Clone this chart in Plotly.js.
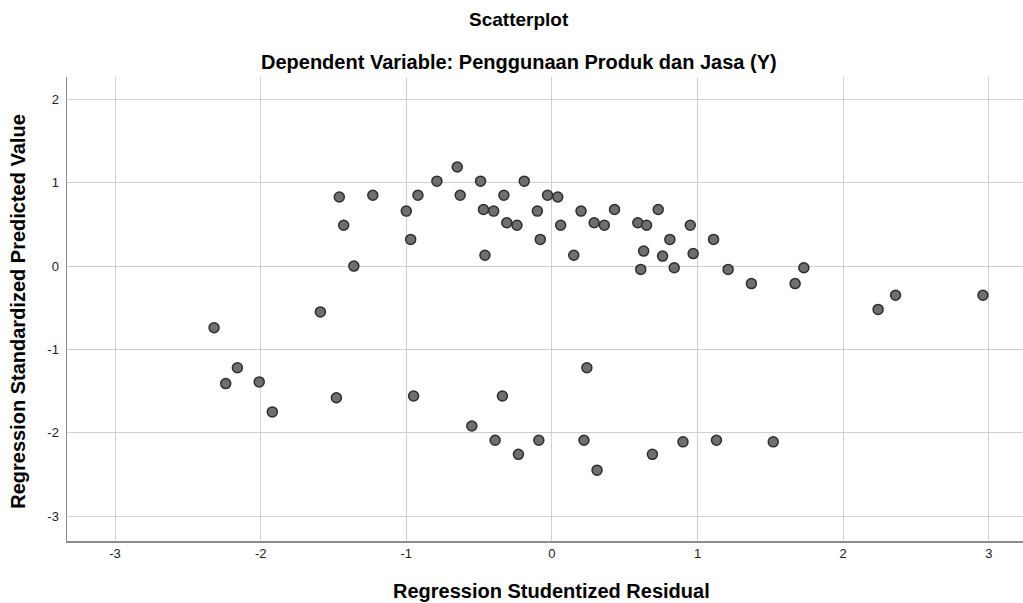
<!DOCTYPE html>
<html>
<head>
<meta charset="utf-8">
<script src="https://cdn.plot.ly/plotly-3.0.1.min.js"></script>
<style>html,body{margin:0;padding:0;background:#fff;}#chart{width:1023px;height:603px;}</style>
</head>
<body>
<div id="chart"></div>
<script>
// Regression Studentized Residual (x) and Regression Standardized Predicted Value (y)
const residual = [
  -1.46, -1.23, -1.43, -1.36, -1.00, -0.97, -0.92, -0.79, -0.65, -0.63,
  -0.49, -0.47, -0.40, -0.46, -0.33, -0.31, -0.24, -0.19, -0.10, -0.08,
  -0.03, 0.04, 0.06, 0.15, 0.20, 0.29, 0.36, 0.43, 0.59, 0.65,
  0.73, 0.95, 0.81, 1.11, 0.63, 0.76, 0.97, 0.61, 0.84, 1.21,
  1.37, 1.67, 1.73, 2.24, 2.36, 2.96,
  -2.32, -1.59, -2.16, -2.24, -2.01, -1.92, -1.48, -0.95, -0.55, -0.39,
  -0.34, -0.23, -0.09, 0.22, 0.24, 0.31, 0.69, 0.90, 1.13, 1.52
];
const predicted = [
  0.83, 0.85, 0.49, 0.00, 0.66, 0.32, 0.85, 1.02, 1.19, 0.85,
  1.02, 0.68, 0.66, 0.13, 0.85, 0.52, 0.49, 1.02, 0.66, 0.32,
  0.85, 0.83, 0.49, 0.13, 0.66, 0.52, 0.49, 0.68, 0.52, 0.49,
  0.68, 0.49, 0.32, 0.32, 0.18, 0.12, 0.15, -0.04, -0.02, -0.04,
  -0.21, -0.21, -0.02, -0.52, -0.35, -0.35,
  -0.74, -0.55, -1.22, -1.41, -1.39, -1.75, -1.58, -1.56, -1.92, -2.09,
  -1.56, -2.26, -2.09, -2.09, -1.22, -2.45, -2.26, -2.11, -2.09, -2.11
];
const xTicks = [-3, -2, -1, 0, 1, 2, 3];
const yTicks = [-3, -2, -1, 0, 1, 2];

const chartTitle = "Scatterplot";
const chartSubtitle = "Dependent Variable: Penggunaan Produk dan Jasa (Y)";
const xTitle = "Regression Studentized Residual";
const yTitle = "Regression Standardized Predicted Value";

const FONT = "Liberation Sans, Arial, sans-serif";

const trace = {
  x: residual,
  y: predicted,
  type: "scatter",
  mode: "markers",
  marker: { size: 10, color: "#6f6f6f", line: { color: "#2e2e2e", width: 1.5 } },
  hoverinfo: "x+y"
};

const layout = {
  width: 1023,
  height: 603,
  margin: { l: 67, r: 0, t: 77, b: 62 },
  paper_bgcolor: "#ffffff",
  plot_bgcolor: "#ffffff",
  showlegend: false,
  font: { family: FONT, color: "#222" },
  xaxis: {
    range: [-3.33, 3.235],
    tickvals: xTicks,
    ticktext: xTicks.map(String),
    showgrid: true,
    gridcolor: "#d0d0d0",
    gridwidth: 1,
    zeroline: false,
    showline: true,
    linecolor: "#8c8c8c",
    linewidth: 1.5,
    ticks: "",
    tickfont: { family: FONT, size: 13, color: "#222" }
  },
  yaxis: {
    range: [-3.30, 2.27],
    tickvals: yTicks,
    ticktext: yTicks.map(String),
    showgrid: true,
    gridcolor: "#d0d0d0",
    gridwidth: 1,
    zeroline: false,
    showline: true,
    linecolor: "#8c8c8c",
    linewidth: 1.5,
    ticks: "",
    ticklabelstandoff: 4,
    tickfont: { family: FONT, size: 13, color: "#222" }
  },
  annotations: [
    { text: "<b>" + chartTitle + "</b>", xref: "paper", yref: "paper", x: 0.473, y: 1.123,
      xanchor: "center", yanchor: "middle", showarrow: false,
      font: { family: FONT, size: 19, color: "#000" } },
    { text: "<b>" + chartSubtitle + "</b>", xref: "paper", yref: "paper", x: 0.473, y: 1.032,
      xanchor: "center", yanchor: "middle", showarrow: false,
      font: { family: FONT, size: 20, color: "#000" } },
    { text: "<b>" + xTitle + "</b>", xref: "paper", yref: "paper", x: 0.507, y: -0.108,
      xanchor: "center", yanchor: "middle", showarrow: false,
      font: { family: FONT, size: 20, color: "#000" } },
    { text: "<b>" + yTitle + "</b>", xref: "paper", yref: "paper", x: -0.0513, y: 0.496,
      xanchor: "center", yanchor: "middle", showarrow: false, textangle: -90,
      font: { family: FONT, size: 20, color: "#000" } }
  ]
};

Plotly.newPlot("chart", [trace], layout, { displayModeBar: false, staticPlot: true });
</script>
</body>
</html>
